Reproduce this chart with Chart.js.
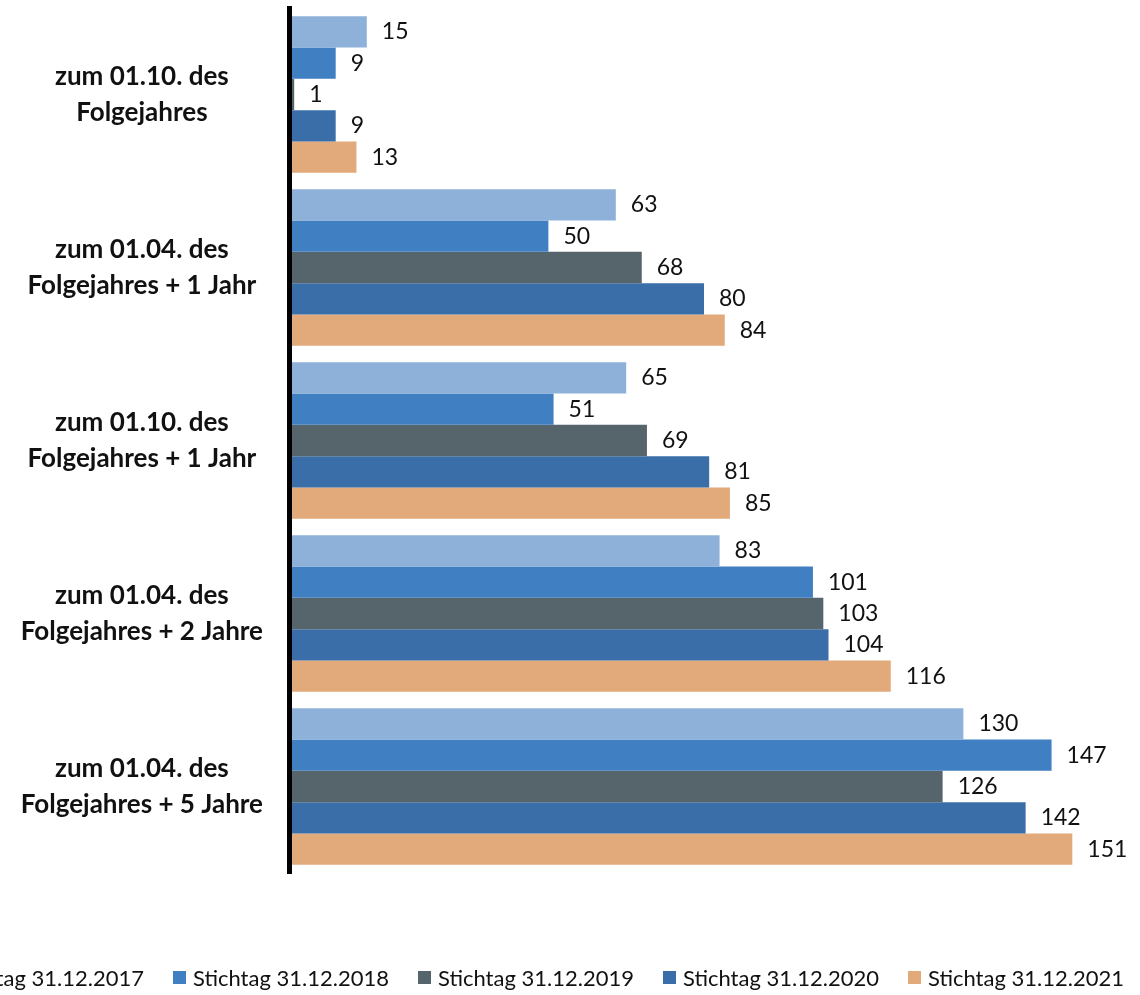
<!DOCTYPE html>
<html>
<head>
<meta charset="utf-8">
<script src="https://cdn.jsdelivr.net/npm/chart.js@4/dist/chart.umd.min.js"></script>
<style>
    body { margin: 0; background: #fff; overflow: hidden; }
    #wrap { position: relative; width: 1140px; height: 995px; }
    #legend {
        position: absolute; top: 964px; left: -72px;
        display: flex; white-space: nowrap;
        font-family: Lato, sans-serif; font-size: 22px; color: #111;
    }
    #legend .item { display: flex; align-items: center; width: 245px; }
    #legend .box { width: 13px; height: 13px; margin-right: 7px; }
</style>
</head>
<body>
<div id="wrap">
    <canvas id="chart" width="1140" height="995"></canvas>
    <div id="legend"></div>
</div>
<script>
// categories (y axis) and series values
const categories = [
    ['zum 01.10. des', 'Folgejahres'],
    ['zum 01.04. des', 'Folgejahres + 1 Jahr'],
    ['zum 01.10. des', 'Folgejahres + 1 Jahr'],
    ['zum 01.04. des', 'Folgejahres + 2 Jahre'],
    ['zum 01.04. des', 'Folgejahres + 5 Jahre']
];
const seriesLabels = ['Stichtag 31.12.2017', 'Stichtag 31.12.2018', 'Stichtag 31.12.2019', 'Stichtag 31.12.2020', 'Stichtag 31.12.2021'];
const values2017 = [15, 63, 65, 83, 130];
const values2018 = [9, 50, 51, 101, 147];
const values2019 = [1, 68, 69, 103, 126];
const values2020 = [9, 80, 81, 104, 142];
const values2021 = [13, 84, 85, 116, 151];
const colors = ['#8eb1da', '#3f7fc2', '#56646c', '#3a6ea8', '#e2aa7a'];

const allValues = [values2017, values2018, values2019, values2020, values2021];

// value labels at the end of each bar
const valueLabels = {
    id: 'valueLabels',
    afterDatasetsDraw(chart) {
        const ctx = chart.ctx;
        ctx.save();
        ctx.font = '23px Lato, sans-serif';
        ctx.fillStyle = '#111';
        ctx.textAlign = 'left';
        ctx.textBaseline = 'middle';
        chart.data.datasets.forEach((ds, i) => {
            chart.getDatasetMeta(i).data.forEach((bar, j) => {
                ctx.fillText(ds.data[j], bar.x + 15, bar.y);
            });
        });
        ctx.restore();
    }
};

new Chart(document.getElementById('chart'), {
    type: 'bar',
    data: {
        labels: categories,
        datasets: allValues.map((vals, i) => ({
            label: seriesLabels[i],
            data: vals,
            backgroundColor: colors[i],
            borderWidth: 0,
            barPercentage: 1.0,
            categoryPercentage: 0.905
        }))
    },
    options: {
        indexAxis: 'y',
        responsive: false,
        animation: false,
        layout: { padding: { top: 8, bottom: 122, right: 21, left: 0 } },
        plugins: {
            legend: { display: false },
            tooltip: { enabled: false }
        },
        scales: {
            x: {
                display: false,
                min: 0,
                max: 160
            },
            y: {
                afterFit(scale) {
                    scale.width = 289;
                    // tick padding should not push the chart area down
                    scale.paddingTop = 0;
                    scale.paddingBottom = 0;
                },
                grid: { display: false },
                // axis line drawn on top of the bars
                border: { display: true, color: '#000', width: 5, z: 1 },
                ticks: {
                    crossAlign: 'center',
                    padding: 18,
                    color: '#111',
                    font: { family: 'Lato, sans-serif', size: 26, weight: 'bold', lineHeight: 1.37 }
                }
            }
        }
    },
    plugins: [valueLabels]
});

// legend as html, it runs off the left edge like the original
const legend = document.getElementById('legend');
seriesLabels.forEach((name, i) => {
    const item = document.createElement('div');
    item.className = 'item';
    item.innerHTML = `<span class="box" style="background:${colors[i]}"></span><span>${name}</span>`;
    legend.appendChild(item);
});
</script>
</body>
</html>
